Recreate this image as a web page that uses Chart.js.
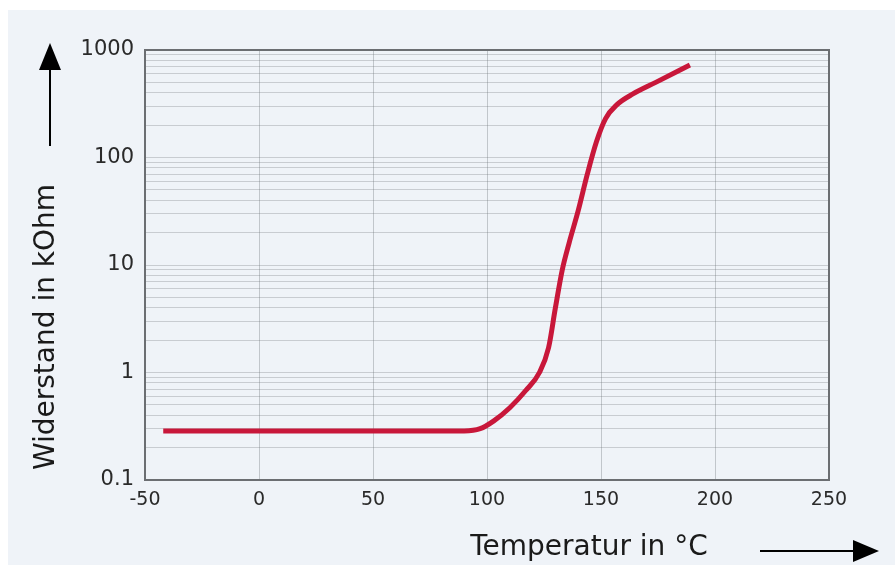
<!DOCTYPE html>
<html>
<head>
<meta charset="utf-8">
<script src="https://cdn.jsdelivr.net/npm/chart.js@4.4.1/dist/chart.umd.min.js"></script>
<style>
  html, body { margin: 0; padding: 0; background: #ffffff; }
  #wrap { width: 895px; height: 565px; }
</style>
</head>
<body>
<div id="wrap"><canvas id="ptc-chart" width="895" height="565"></canvas></div>
<script>
// values
var temps      = [-42, 0, 50, 90, 97, 103, 110, 117, 123, 127, 130, 133, 136, 140, 144, 148, 152, 157, 164, 174, 189];
var resistance = [0.285, 0.285, 0.285, 0.286, 0.30, 0.355, 0.47, 0.68, 1.0, 1.7, 4.0, 9.0, 16, 32, 70, 140, 230, 310, 390, 500, 725];
var xTicks = [-50, 0, 50, 100, 150, 200, 250];
var yMajor = [0.1, 1, 10, 100, 1000];

var bg = '#eff3f8';
var red = '#c8173a';
var fontFam = '"DejaVu Sans", Verdana, sans-serif';

var points = temps.map(function(t, i) { return {x: t, y: resistance[i]}; });

// gridline values: 1..9 of each decade
var yGrid = [];
yMajor.forEach(function(v, i) {
  if (i == yMajor.length - 1) { yGrid.push(v); return; }
  for (var k = 1; k < 10; k++) yGrid.push(+(v * k).toPrecision(3));
});

var decor = {
  id: 'decor',
  beforeDraw: function(chart) {
    var c = chart.ctx;
    c.save();
    c.fillStyle = '#ffffff';
    c.fillRect(0, 0, chart.width, chart.height);
    c.fillStyle = bg;
    c.fillRect(8, 10, chart.width - 8, chart.height - 10);
    c.restore();
  },
  afterDraw: function(chart) {
    var c = chart.ctx, a = chart.chartArea;
    c.save();
    // frame
    c.strokeStyle = '#6b6e72';
    c.lineWidth = 2;
    c.strokeRect(a.left, a.top, a.right - a.left, a.bottom - a.top);

    c.fillStyle = '#1a1a1a';
    c.font = '28px ' + fontFam;
    // y title
    c.save();
    c.translate(47, 327);
    c.rotate(-Math.PI / 2);
    c.textAlign = 'center';
    c.textBaseline = 'middle';
    c.fillText('Widerstand in kOhm', 0, 0);
    c.restore();
    // x title
    c.textAlign = 'center';
    c.textBaseline = 'middle';
    c.fillText('Temperatur in \u00B0C', 589, 548);

    // arrows
    c.strokeStyle = '#000';
    c.fillStyle = '#000';
    c.lineWidth = 2;
    c.beginPath();
    c.moveTo(50, 146); c.lineTo(50, 66);
    c.stroke();
    c.beginPath();
    c.moveTo(50, 43); c.lineTo(61, 70); c.lineTo(39, 70);
    c.closePath(); c.fill();

    c.beginPath();
    c.moveTo(760, 551); c.lineTo(858, 551);
    c.stroke();
    c.beginPath();
    c.moveTo(879, 551); c.lineTo(853, 540); c.lineTo(853, 562);
    c.closePath(); c.fill();
    c.restore();
  }
};

new Chart(document.getElementById('ptc-chart'), {
  type: 'line',
  data: {
    datasets: [{
      data: points,
      borderColor: red,
      borderWidth: 5,
      pointRadius: 0,
      fill: false,
      cubicInterpolationMode: 'monotone',
      borderCapStyle: 'butt'
    }]
  },
  options: {
    responsive: false,
    animation: false,
    layout: { padding: { left: 0, top: 50, right: 66, bottom: 0 } },
    plugins: { legend: { display: false }, tooltip: { enabled: false } },
    scales: {
      x: {
        type: 'linear',
        min: -50, max: 250,
        afterBuildTicks: function(s) { s.ticks = xTicks.map(function(v) { return {value: v}; }); },
        afterFit: function(s) { s.height = 85; },
        grid: { color: 'rgba(110,115,120,0.35)', lineWidth: 1, drawTicks: false },
        border: { display: false },
        ticks: { color: '#2a2a2a', padding: 9, font: { family: fontFam, size: 19 } }
      },
      y: {
        type: 'logarithmic',
        min: 0.1, max: 1000,
        afterBuildTicks: function(s) { s.ticks = yGrid.map(function(v) { return {value: v}; }); },
        afterFit: function(s) { s.width = 145; },
        grid: { color: 'rgba(110,115,120,0.3)', lineWidth: 1, drawTicks: false },
        border: { display: false },
        ticks: {
          autoSkip: false,
          color: '#2a2a2a',
          padding: 11,
          font: { family: fontFam, size: 21 },
          callback: function(v) { return yMajor.indexOf(v) >= 0 ? String(v) : ''; }
        }
      }
    }
  },
  plugins: [decor]
});
</script>
</body>
</html>
